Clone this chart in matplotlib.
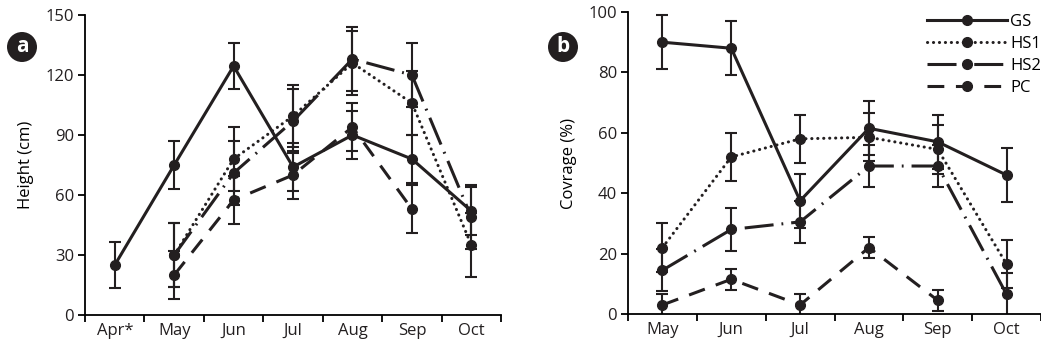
import numpy as np
import matplotlib
matplotlib.use("Agg")
import matplotlib.pyplot as plt
from matplotlib.patches import Circle

plt.rcParams['font.family'] = ['Open Sans', 'DejaVu Sans']

nan = np.nan

# panel a - plant height (cm)
months_a = ['Apr*', 'May', 'Jun', 'Jul', 'Aug', 'Sep', 'Oct']
gs_h = [25, 75, 124.5, 74, 90, 78, 52]
gs_h_err = [11.5, 12, 11.5, 12, 12, 12, 12]
hs1_h = [nan, 30, 78, 99.5, 126, 106, 35]
hs1_h_err = [nan, 16, 16, 15.5, 16, 16, 16]
hs2_h = [nan, 30, 71, 97, 128, 120, 49]
hs2_h_err = [nan, 16, 16, 16, 16, 16, 16]
pc_h = [nan, 20, 57.5, 70, 94, 53, nan]
pc_h_err = [nan, 12, 12, 12, 12, 12, nan]

# panel b - coverage (%)
months_b = ['May', 'Jun', 'Jul', 'Aug', 'Sep', 'Oct']
gs_c = [90, 88, 37.5, 61.5, 57, 46]
gs_c_err = [9, 9, 9, 9, 9, 9]
hs1_c = [22, 52, 58, 58.5, 54.5, 16.5]
hs1_c_err = [8, 8, 8, 8, 8, 8]
hs2_c = [14.5, 28, 30.5, 49, 49, 6.5]
hs2_c_err = [7, 7, 7, 7, 7, 7]
pc_c = [3, 11.5, 3, 22, 4.5, nan]
pc_c_err = [3.5, 3.5, 3.5, 3.5, 3.5, nan]

labels = ['GS', 'HS1', 'HS2', 'PC']
styles = {
    'GS': dict(linestyle='-'),
    'HS1': dict(linestyle=(0, (0.05, 1.9)), dash_capstyle='round'),
    'HS2': dict(linestyle=(0, (9.5, 2.6, 0.6, 2.6))),
    'PC': dict(linestyle=(0, (5.5, 3.8))),
}
LW = 2.2
FS = 12


def draw_panel(ax, cats, series, errs, ylim, yticks, ylabel):
    x = np.arange(len(cats))
    for lab, y, e in zip(labels, series, errs):
        ax.errorbar(x, y, yerr=e, fmt='none', ecolor='#231f20', elinewidth=1.5,
                    capsize=4.5, capthick=1.5, zorder=2)
        ax.plot(x, y, color='#231f20', lw=LW, marker='o', markersize=7,
                label=lab, zorder=3, **styles[lab])
    ax.set_xlim(-0.5, len(cats) - 0.5)
    ax.set_ylim(*ylim)
    ax.set_yticks(yticks)
    ax.set_xticks(x)
    ax.set_xticklabels(cats)
    ax.set_xticks(np.arange(-0.5, len(cats), 1), minor=True)
    ax.tick_params(axis='x', which='major', length=0, pad=6, labelsize=FS)
    ax.tick_params(axis='x', which='minor', length=5, width=1.3, direction='out')
    ax.tick_params(axis='y', length=5, width=1.3, pad=3, labelsize=FS)
    for s in ['top', 'right']:
        ax.spines[s].set_visible(False)
    for s in ['left', 'bottom']:
        ax.spines[s].set_linewidth(1.3)
    ax.set_ylabel(ylabel, fontsize=FS, labelpad=8)
    for t in ax.get_xticklabels() + ax.get_yticklabels():
        t.set_color('#231f20')


fig = plt.figure(figsize=(10.41, 3.48), dpi=100)

ax1 = fig.add_axes([0.0817, 0.0948, 0.3996, 0.862])
draw_panel(ax1, months_a, [gs_h, hs1_h, hs2_h, pc_h],
           [gs_h_err, hs1_h_err, hs2_h_err, pc_h_err],
           (0, 150), [0, 30, 60, 90, 120, 150], 'Height (cm)')

ax2 = fig.add_axes([0.6033, 0.0977, 0.3967, 0.8678])
draw_panel(ax2, months_b, [gs_c, hs1_c, hs2_c, pc_c],
           [gs_c_err, hs1_c_err, hs2_c_err, pc_c_err],
           (0, 100), [0, 20, 40, 60, 80, 100], 'Covrage (%)')

ax2.legend(loc='upper right', bbox_to_anchor=(1.0, 0.995), frameon=False,
           fontsize=FS, handlelength=4.8, numpoints=1, labelspacing=0.36,
           handletextpad=0.2, borderpad=0.0, borderaxespad=0.0)

# panel letters in black circles
for cx, letter in [(22, 'a'), (563, 'b')]:
    fx, fy = cx / 1041, 1 - 47 / 348
    fig.patches.append(Circle((cx, 348 - 47), 15, transform=None,
                              facecolor='#231f20', edgecolor='none'))
    fig.text(fx, fy, letter, color='white', fontsize=15, fontweight='bold',
             ha='center', va='center')

fig.savefig('out.png', dpi=100)
